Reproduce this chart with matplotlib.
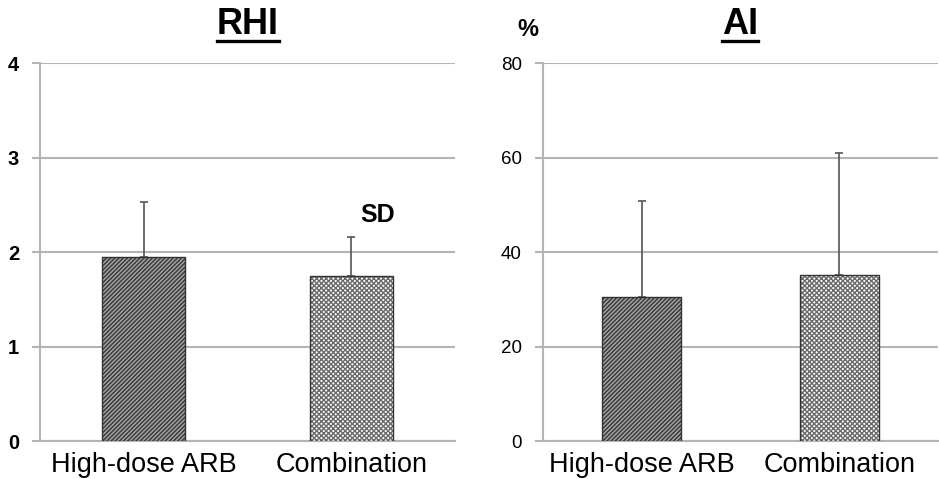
import numpy as np
import matplotlib.pyplot as plt
from matplotlib.lines import Line2D

plt.rcParams['font.family'] = ['Liberation Sans', 'DejaVu Sans']
plt.rcParams['hatch.linewidth'] = 1.0

groups = ["High-dose ARB", "Combination"]
rhi_mean = [1.95, 1.75]
rhi_sd = [0.58, 0.41]
ai_mean = [30.6, 35.2]
ai_sd = [20.2, 25.9]

hatches = ['////////', 'xxxxxxx']
faces = ['#3c3c3c', 'white']
hatch_cols = ['#a8a8a8', '#6a6a6a']
grid_col = '#b4b4b4'

fig = plt.figure(figsize=(9.39, 4.79), dpi=100)
ax1 = fig.add_axes([0.0426, 0.079, 0.442, 0.789])
ax2 = fig.add_axes([0.578, 0.079, 0.421, 0.789])


def draw(ax, means, sds, ymax, step, title, tick_bold, tick_size):
    x = np.arange(len(groups))
    for i in range(len(groups)):
        ax.bar(x[i], means[i], width=0.4, color=faces[i], edgecolor=hatch_cols[i],
               hatch=hatches[i], linewidth=0, zorder=3)
        ax.bar(x[i], means[i], width=0.4, fill=False, edgecolor='#333333',
               linewidth=1.0, zorder=4)
    ax.errorbar(x, means, yerr=[np.zeros(len(sds)), sds], fmt='none',
                ecolor='#555555', elinewidth=1.2, capsize=3, capthick=1.2, zorder=2)
    ax.set_xlim(-0.5, 1.5)
    ax.set_ylim(0, ymax)
    ax.set_yticks(np.arange(0, ymax + step / 2, step))
    ax.yaxis.grid(True, color=grid_col, linewidth=1.5, zorder=0)
    ax.set_axisbelow(True)
    for s in ['top', 'right']:
        ax.spines[s].set_visible(False)
    ax.spines['left'].set_color(grid_col)
    ax.spines['left'].set_linewidth(1.5)
    ax.spines['bottom'].set_color(grid_col)
    ax.spines['bottom'].set_linewidth(1.5)
    ax.tick_params(axis='y', color=grid_col, width=1.5, length=6, pad=9,
                   labelsize=tick_size)
    ax.tick_params(axis='x', length=0, labelsize=19.5, pad=8)
    ax.set_xticks(x)
    ax.set_xticklabels(groups)
    if tick_bold:
        for t in ax.get_yticklabels():
            t.set_fontweight('bold')
    t = ax.set_title(title, fontsize=26, fontweight='bold', pad=21)
    return t


t1 = draw(ax1, rhi_mean, rhi_sd, 4, 1, 'RHI', True, 14.5)
t2 = draw(ax2, ai_mean, ai_sd, 80, 20, 'AI', False, 13.5)

ax1.text(1.125, 2.39, 'SD', fontsize=18, fontweight='bold', ha='center', va='center')
fig.text(528 / 939, 1 - 30 / 479, '%', fontsize=17, fontweight='bold', ha='center',
         va='center')

# underline the titles
fig.canvas.draw()
r = fig.canvas.get_renderer()
for t in [t1, t2]:
    bb = t.get_window_extent(r)
    yl = bb.y0 + 1
    fig.add_artist(Line2D([bb.x0 / 939, bb.x1 / 939], [yl / 479, yl / 479],
                          color='black', linewidth=2.4, transform=fig.transFigure))

fig.savefig('out.png', dpi=100)
